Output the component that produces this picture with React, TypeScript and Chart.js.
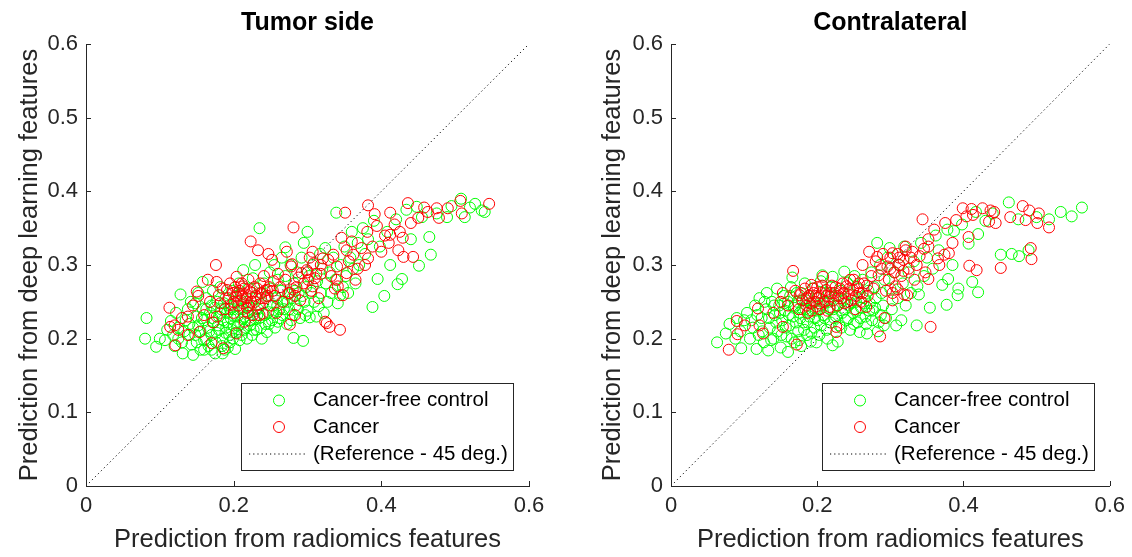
import React, { useEffect, useRef } from "react";
import { Chart, registerables } from "chart.js";

Chart.register(...registerables);

// ---------------- data ----------------
const PANEL_TITLES = ["Tumor side", "Contralateral"];
const SERIES_LABELS = ["Cancer-free control", "Cancer", "(Reference - 45 deg.)"];
const X_TITLE = "Prediction from radiomics features";
const Y_TITLE = "Prediction from deep learning features";
const X_TICKS = [0, 0.2, 0.4, 0.6];
const Y_TICKS = [0, 0.1, 0.2, 0.3, 0.4, 0.5, 0.6];
const REFERENCE_LINE: [number, number][] = [[0, 0], [0.6, 0.6]];

const TUMOR_CONTROL: [number, number][] = [
  [0.080,0.200],[0.082,0.228],[0.095,0.189],[0.100,0.200],[0.107,0.198],[0.110,0.212],[0.115,0.224],[0.118,0.205],
  [0.120,0.190],[0.122,0.235],[0.125,0.215],[0.128,0.260],[0.130,0.195],[0.131,0.180],[0.135,0.225],[0.138,0.240],
  [0.140,0.205],[0.142,0.250],[0.145,0.178],[0.145,0.215],[0.148,0.248],[0.150,0.230],[0.150,0.195],[0.152,0.262],
  [0.155,0.210],[0.155,0.185],[0.158,0.277],[0.158,0.240],[0.160,0.225],[0.162,0.200],[0.163,0.255],[0.165,0.215],
  [0.166,0.190],[0.168,0.235],[0.170,0.245],[0.170,0.205],[0.172,0.265],[0.173,0.222],[0.175,0.180],[0.176,0.195],
  [0.178,0.250],[0.180,0.230],[0.180,0.212],[0.182,0.270],[0.183,0.240],[0.185,0.200],[0.186,0.225],[0.188,0.185],
  [0.189,0.255],[0.190,0.215],[0.191,0.235],[0.193,0.245],[0.194,0.205],[0.195,0.195],[0.196,0.228],[0.198,0.265],
  [0.200,0.218],[0.200,0.240],[0.202,0.186],[0.203,0.208],[0.204,0.250],[0.205,0.230],[0.207,0.275],[0.208,0.198],
  [0.209,0.222],[0.210,0.260],[0.212,0.240],[0.213,0.293],[0.214,0.212],[0.215,0.230],[0.217,0.250],[0.218,0.200],
  [0.220,0.235],[0.221,0.268],[0.222,0.218],[0.224,0.245],[0.225,0.205],[0.226,0.282],[0.228,0.228],[0.229,0.300],
  [0.230,0.255],[0.231,0.212],[0.233,0.240],[0.235,0.350],[0.235,0.228],[0.236,0.262],[0.238,0.200],[0.240,0.248],
  [0.241,0.275],[0.243,0.220],[0.245,0.209],[0.245,0.258],[0.247,0.236],[0.249,0.290],[0.250,0.268],[0.252,0.225],
  [0.253,0.245],[0.255,0.300],[0.256,0.215],[0.258,0.255],[0.260,0.223],[0.260,0.280],[0.262,0.240],[0.264,0.265],
  [0.265,0.310],[0.266,0.232],[0.268,0.250],[0.270,0.324],[0.270,0.285],[0.272,0.220],[0.274,0.260],[0.275,0.240],
  [0.277,0.300],[0.279,0.255],[0.280,0.232],[0.281,0.201],[0.282,0.275],[0.284,0.245],[0.286,0.290],[0.288,0.262],
  [0.290,0.228],[0.292,0.310],[0.294,0.197],[0.295,0.330],[0.296,0.250],[0.298,0.270],[0.300,0.345],[0.300,0.238],
  [0.302,0.285],[0.303,0.229],[0.305,0.262],[0.307,0.300],[0.309,0.250],[0.312,0.230],[0.313,0.278],[0.315,0.244],
  [0.317,0.315],[0.318,0.262],[0.320,0.295],[0.322,0.235],[0.324,0.323],[0.325,0.275],[0.327,0.250],[0.330,0.290],
  [0.332,0.262],[0.335,0.310],[0.338,0.280],[0.339,0.371],[0.341,0.248],[0.344,0.259],[0.345,0.300],[0.348,0.270],
  [0.350,0.325],[0.352,0.285],[0.355,0.262],[0.358,0.310],[0.360,0.345],[0.362,0.295],[0.365,0.275],[0.368,0.330],
  [0.370,0.300],[0.375,0.350],[0.378,0.315],[0.382,0.335],[0.388,0.243],[0.390,0.360],[0.395,0.281],[0.398,0.325],
  [0.404,0.258],[0.408,0.345],[0.412,0.300],[0.420,0.362],[0.422,0.274],[0.428,0.281],[0.434,0.375],[0.440,0.335],
  [0.448,0.379],[0.451,0.299],[0.455,0.365],[0.465,0.338],[0.467,0.314],[0.475,0.370],[0.489,0.365],[0.495,0.380],
  [0.508,0.390],[0.513,0.365],[0.520,0.378],[0.527,0.383],[0.536,0.374],[0.540,0.372],
  [0.125,0.200],[0.133,0.210],[0.140,0.220],[0.143,0.192],[0.148,0.205],[0.152,0.218],[0.157,0.228],[0.160,0.198],
  [0.163,0.240],[0.167,0.210],[0.171,0.228],[0.174,0.242],[0.177,0.208],[0.179,0.218],[0.182,0.235],[0.184,0.190],
  [0.187,0.248],[0.189,0.208],[0.192,0.222],[0.195,0.240],[0.197,0.212],[0.199,0.200],[0.201,0.230],[0.203,0.258],
  [0.206,0.218],[0.208,0.240],[0.211,0.205],[0.213,0.228],[0.216,0.215],[0.219,0.245],[0.223,0.225],[0.227,0.212],
  [0.232,0.232],[0.237,0.215],[0.242,0.232],[0.248,0.220],[0.254,0.235],[0.259,0.245],[0.263,0.228],[0.268,0.240],
  [0.273,0.250],[0.278,0.225],[0.283,0.265],[0.287,0.240],[0.293,0.258],[0.297,0.232],[0.185,0.180],[0.192,0.188],
  [0.170,0.185],[0.160,0.185],
];

const TUMOR_CANCER: [number, number][] = [
  [0.113,0.242],[0.114,0.216],[0.120,0.218],[0.121,0.191],[0.125,0.212],[0.130,0.228],[0.138,0.230],[0.138,0.205],
  [0.145,0.245],[0.150,0.264],[0.152,0.258],[0.154,0.209],[0.160,0.232],[0.165,0.280],[0.168,0.250],[0.170,0.194],
  [0.172,0.222],[0.176,0.300],[0.177,0.277],[0.177,0.230],[0.180,0.259],[0.182,0.248],[0.185,0.268],[0.186,0.187],
  [0.188,0.240],[0.191,0.266],[0.193,0.255],[0.195,0.275],[0.197,0.246],[0.199,0.262],[0.200,0.235],[0.202,0.270],
  [0.204,0.284],[0.204,0.257],[0.204,0.207],[0.206,0.245],[0.208,0.265],[0.210,0.252],[0.211,0.275],[0.213,0.271],
  [0.213,0.248],[0.215,0.223],[0.216,0.260],[0.218,0.242],[0.219,0.235],[0.220,0.280],[0.222,0.264],[0.223,0.332],
  [0.224,0.250],[0.226,0.232],[0.228,0.270],[0.230,0.258],[0.233,0.320],[0.234,0.246],[0.235,0.232],[0.236,0.275],
  [0.238,0.262],[0.239,0.234],[0.241,0.285],[0.243,0.255],[0.245,0.266],[0.247,0.315],[0.248,0.270],[0.250,0.245],
  [0.252,0.307],[0.254,0.278],[0.256,0.258],[0.258,0.235],[0.260,0.288],[0.263,0.270],[0.266,0.250],[0.270,0.280],
  [0.272,0.318],[0.274,0.262],[0.276,0.219],[0.276,0.262],[0.278,0.298],[0.279,0.301],[0.280,0.267],[0.281,0.351],
  [0.283,0.258],[0.283,0.232],[0.285,0.270],[0.288,0.283],[0.290,0.252],[0.292,0.289],[0.295,0.275],[0.299,0.293],
  [0.301,0.280],[0.303,0.310],[0.305,0.265],[0.307,0.271],[0.307,0.318],[0.308,0.302],[0.312,0.288],[0.315,0.255],
  [0.318,0.300],[0.321,0.309],[0.324,0.223],[0.326,0.221],[0.328,0.307],[0.330,0.216],[0.332,0.285],[0.335,0.314],
  [0.337,0.268],[0.340,0.298],[0.340,0.280],[0.341,0.271],[0.344,0.212],[0.346,0.337],[0.348,0.259],[0.351,0.371],
  [0.353,0.289],[0.353,0.320],[0.356,0.305],[0.360,0.332],[0.362,0.314],[0.365,0.280],[0.368,0.295],[0.373,0.323],
  [0.378,0.300],[0.381,0.345],[0.382,0.309],[0.382,0.381],[0.388,0.325],[0.391,0.369],[0.394,0.353],[0.400,0.318],
  [0.405,0.340],[0.410,0.330],[0.412,0.341],[0.412,0.371],[0.418,0.355],[0.423,0.320],[0.425,0.345],[0.429,0.337],
  [0.430,0.311],[0.436,0.384],[0.440,0.357],[0.443,0.311],[0.450,0.364],[0.458,0.378],[0.463,0.372],[0.475,0.377],
  [0.478,0.364],[0.490,0.377],[0.507,0.387],[0.509,0.370],[0.546,0.383],
  [0.200,0.250],[0.206,0.262],[0.212,0.258],[0.214,0.268],[0.218,0.255],[0.221,0.245],[0.225,0.262],[0.229,0.250],
  [0.232,0.268],[0.237,0.255],[0.242,0.265],[0.246,0.258],[0.253,0.265],[0.300,0.290],[0.310,0.282],[0.318,0.288],
];

const CONTRA_CONTROL: [number, number][] = [
  [0.063,0.195],[0.075,0.207],[0.080,0.220],[0.088,0.200],[0.090,0.228],[0.095,0.210],[0.096,0.187],[0.100,0.225],
  [0.104,0.235],[0.108,0.200],[0.112,0.215],[0.115,0.245],[0.117,0.186],[0.120,0.205],[0.121,0.255],[0.124,0.228],
  [0.127,0.195],[0.130,0.240],[0.131,0.262],[0.133,0.184],[0.135,0.215],[0.138,0.250],[0.140,0.200],[0.142,0.232],
  [0.145,0.268],[0.146,0.210],[0.148,0.245],[0.150,0.188],[0.152,0.225],[0.154,0.258],[0.156,0.238],[0.158,0.203],
  [0.160,0.182],[0.160,0.250],[0.162,0.218],[0.164,0.270],[0.166,0.283],[0.167,0.230],[0.169,0.195],[0.170,0.245],
  [0.172,0.262],[0.174,0.210],[0.176,0.235],[0.178,0.190],[0.179,0.252],[0.181,0.222],[0.183,0.275],[0.184,0.240],
  [0.186,0.205],[0.188,0.258],[0.189,0.230],[0.191,0.196],[0.193,0.248],[0.194,0.268],[0.196,0.215],[0.198,0.238],
  [0.200,0.255],[0.201,0.225],[0.203,0.205],[0.205,0.278],[0.206,0.245],[0.207,0.286],[0.209,0.232],[0.211,0.262],
  [0.213,0.212],[0.215,0.250],[0.217,0.240],[0.219,0.270],[0.221,0.284],[0.221,0.191],[0.223,0.228],[0.225,0.258],
  [0.227,0.245],[0.228,0.196],[0.230,0.218],[0.232,0.265],[0.234,0.235],[0.236,0.252],[0.237,0.291],[0.239,0.225],
  [0.241,0.276],[0.243,0.245],[0.245,0.212],[0.247,0.260],[0.249,0.235],[0.251,0.285],[0.253,0.250],[0.255,0.222],
  [0.256,0.268],[0.258,0.209],[0.260,0.242],[0.262,0.280],[0.264,0.255],[0.266,0.230],[0.268,0.207],[0.270,0.265],
  [0.272,0.248],[0.274,0.290],[0.276,0.238],[0.278,0.270],[0.280,0.255],[0.282,0.330],[0.284,0.222],[0.286,0.300],
  [0.288,0.262],[0.290,0.245],[0.292,0.280],[0.294,0.228],[0.296,0.310],[0.299,0.323],[0.300,0.268],[0.302,0.240],
  [0.305,0.290],[0.308,0.218],[0.310,0.255],[0.312,0.300],[0.315,0.225],[0.317,0.275],[0.319,0.325],[0.321,0.245],
  [0.325,0.290],[0.328,0.262],[0.332,0.305],[0.336,0.218],[0.337,0.271],[0.339,0.260],[0.342,0.330],[0.346,0.285],
  [0.350,0.310],[0.354,0.242],[0.358,0.295],[0.362,0.340],[0.366,0.320],[0.371,0.273],[0.377,0.246],[0.378,0.348],
  [0.379,0.281],[0.385,0.300],[0.387,0.346],[0.392,0.259],[0.393,0.268],[0.398,0.355],[0.407,0.329],[0.412,0.277],
  [0.417,0.372],[0.420,0.342],[0.420,0.263],[0.430,0.360],[0.440,0.370],[0.451,0.314],[0.462,0.385],[0.466,0.315],
  [0.475,0.362],[0.476,0.312],[0.489,0.320],[0.500,0.365],[0.517,0.362],[0.533,0.372],[0.548,0.366],[0.562,0.378],
  [0.110,0.225],[0.118,0.232],[0.125,0.210],[0.128,0.250],[0.134,0.228],[0.137,0.198],[0.141,0.245],[0.144,0.222],
  [0.149,0.235],[0.151,0.205],[0.155,0.248],[0.157,0.215],[0.161,0.232],[0.163,0.258],[0.165,0.200],[0.168,0.242],
  [0.171,0.222],[0.173,0.250],[0.175,0.198],[0.177,0.228],[0.180,0.240],[0.182,0.212],[0.185,0.252],[0.187,0.222],
  [0.190,0.238],[0.192,0.208],[0.195,0.250],[0.197,0.228],[0.199,0.195],[0.202,0.240],[0.205,0.218],[0.208,0.250],
  [0.210,0.228],[0.214,0.200],[0.216,0.262],[0.218,0.222],[0.222,0.240],[0.226,0.230],[0.229,0.255],[0.233,0.215],
  [0.238,0.240],[0.242,0.228],[0.246,0.248],[0.250,0.220],[0.254,0.238],[0.259,0.228],[0.263,0.248],[0.267,0.220],
  [0.271,0.238],[0.275,0.225],[0.279,0.242],[0.283,0.210],[0.287,0.232],[0.291,0.218],
];

const CONTRA_CANCER: [number, number][] = [
  [0.079,0.185],[0.090,0.224],[0.091,0.206],[0.101,0.218],[0.119,0.241],[0.121,0.218],[0.126,0.207],[0.140,0.235],
  [0.150,0.250],[0.153,0.262],[0.153,0.216],[0.160,0.245],[0.167,0.292],[0.170,0.265],[0.172,0.192],[0.175,0.240],
  [0.176,0.259],[0.180,0.252],[0.183,0.268],[0.185,0.245],[0.187,0.235],[0.189,0.258],[0.190,0.248],[0.192,0.273],
  [0.193,0.238],[0.195,0.262],[0.197,0.250],[0.199,0.244],[0.200,0.270],[0.202,0.255],[0.204,0.240],[0.206,0.262],
  [0.208,0.284],[0.210,0.250],[0.212,0.266],[0.214,0.238],[0.217,0.257],[0.217,0.243],[0.220,0.272],[0.222,0.252],
  [0.224,0.262],[0.226,0.216],[0.226,0.209],[0.228,0.245],[0.231,0.268],[0.233,0.255],[0.235,0.275],[0.237,0.248],
  [0.240,0.271],[0.242,0.260],[0.245,0.280],[0.247,0.252],[0.249,0.266],[0.250,0.280],[0.252,0.240],[0.255,0.270],
  [0.258,0.262],[0.260,0.250],[0.262,0.300],[0.264,0.275],[0.267,0.243],[0.269,0.258],[0.271,0.318],[0.274,0.285],
  [0.277,0.268],[0.280,0.305],[0.282,0.311],[0.284,0.286],[0.286,0.203],[0.288,0.295],[0.290,0.315],[0.292,0.228],
  [0.294,0.265],[0.296,0.298],[0.298,0.280],[0.300,0.310],[0.303,0.316],[0.303,0.262],[0.303,0.252],[0.306,0.290],
  [0.307,0.271],[0.310,0.315],[0.310,0.267],[0.312,0.300],[0.315,0.285],[0.318,0.307],[0.319,0.260],[0.321,0.325],
  [0.321,0.320],[0.323,0.259],[0.325,0.295],[0.328,0.310],[0.330,0.318],[0.333,0.280],[0.336,0.300],[0.340,0.312],
  [0.344,0.362],[0.346,0.322],[0.348,0.290],[0.352,0.335],[0.352,0.325],[0.352,0.281],[0.355,0.216],[0.360,0.348],
  [0.365,0.309],[0.367,0.300],[0.374,0.314],[0.375,0.357],[0.380,0.316],[0.385,0.330],[0.390,0.361],[0.399,0.377],
  [0.404,0.366],[0.407,0.338],[0.408,0.299],[0.411,0.376],[0.413,0.368],[0.418,0.293],[0.426,0.377],[0.435,0.359],
  [0.437,0.374],[0.442,0.372],[0.444,0.357],[0.451,0.296],[0.464,0.365],[0.481,0.380],[0.485,0.361],[0.490,0.374],
  [0.492,0.323],[0.493,0.308],[0.501,0.357],[0.503,0.370],[0.517,0.351],
  [0.178,0.262],[0.186,0.255],[0.194,0.268],[0.198,0.258],[0.203,0.248],[0.207,0.272],[0.213,0.258],[0.219,0.262],
  [0.225,0.270],[0.229,0.258],[0.236,0.262],[0.241,0.250],[0.244,0.268],[0.253,0.258],[0.257,0.275],[0.262,0.262],
  [0.268,0.272],[0.300,0.295],[0.312,0.310],[0.318,0.292],
];

// ---------------- styling ----------------
const FONT = '"Liberation Sans", Arial, Helvetica, sans-serif';
const AXIS_COLOR = "#262626";
const CONTROL_COLOR = "#00ff00";
const CANCER_COLOR = "#ff0000";
const CANVAS_W = 566;
const CANVAS_H = 557;
const MARKER_R = 5.5;

const inwardTicks = {
  id: "inwardTicks",
  afterDraw(chart: any) {
    const { ctx, chartArea, scales } = chart;
    ctx.save();
    ctx.strokeStyle = AXIS_COLOR;
    ctx.lineWidth = 1;
    ctx.beginPath();
    Y_TICKS.forEach((v) => {
      const y = Math.round(scales.y.getPixelForValue(v)) + 0.5;
      ctx.moveTo(chartArea.left, y);
      ctx.lineTo(chartArea.left + 5, y);
    });
    X_TICKS.forEach((v) => {
      const x = Math.round(scales.x.getPixelForValue(v)) + 0.5;
      ctx.moveTo(x, chartArea.bottom);
      ctx.lineTo(x, chartArea.bottom - 5);
    });
    ctx.stroke();
    ctx.restore();
  },
};

const boxLegend = {
  id: "boxLegend",
  afterDraw(chart: any) {
    const { ctx, chartArea } = chart;
    const W = 272;
    const H = 87;
    const inset = 16;
    const L = Math.round(chartArea.right - inset - W);
    const T = Math.round(chartArea.bottom - inset - H);
    ctx.save();
    ctx.fillStyle = "#ffffff";
    ctx.fillRect(L, T, W, H);
    ctx.strokeStyle = AXIS_COLOR;
    ctx.lineWidth = 1;
    ctx.strokeRect(L + 0.5, T + 0.5, W, H);
    const rows = [17.5, 44, 71];
    chart.data.datasets.forEach((ds: any, i: number) => {
      const cy = T + rows[i];
      ctx.strokeStyle = ds.borderColor;
      ctx.lineWidth = 1;
      if (ds.showLine) {
        ctx.setLineDash(ds.borderDash || []);
        ctx.beginPath();
        ctx.moveTo(L + 8, cy);
        ctx.lineTo(L + 64, cy);
        ctx.stroke();
        ctx.setLineDash([]);
      } else {
        ctx.beginPath();
        ctx.arc(L + 38, cy, ds.pointRadius, 0, Math.PI * 2);
        ctx.stroke();
      }
      ctx.fillStyle = "#000000";
      ctx.font = `20.5px ${FONT}`;
      ctx.textBaseline = "middle";
      ctx.textAlign = "left";
      ctx.fillText(ds.label, L + 72, cy);
    });
    ctx.restore();
  },
};

function makeChart(
  canvas: HTMLCanvasElement,
  title: string,
  control: [number, number][],
  cancer: [number, number][],
  yAxisWidth: number,
  rightPad: number,
  yTitlePad: number
) {
  const toXY = (arr: [number, number][]) => arr.map(([x, y]) => ({ x, y }));
  return new Chart(canvas, {
    type: "scatter",
    data: {
      datasets: [
        {
          label: SERIES_LABELS[0],
          data: toXY(control),
          borderColor: CONTROL_COLOR,
          backgroundColor: "rgba(0,0,0,0)",
          pointRadius: MARKER_R,
          pointBorderWidth: 1,
          pointStyle: "circle",
          showLine: false,
          order: 3,
        },
        {
          label: SERIES_LABELS[1],
          data: toXY(cancer),
          borderColor: CANCER_COLOR,
          backgroundColor: "rgba(0,0,0,0)",
          pointRadius: MARKER_R,
          pointBorderWidth: 1,
          pointStyle: "circle",
          showLine: false,
          order: 2,
        },
        {
          label: SERIES_LABELS[2],
          data: toXY(REFERENCE_LINE),
          borderColor: "#000000",
          borderWidth: 1,
          borderDash: [1.2, 3],
          pointRadius: 0,
          showLine: true,
          fill: false,
          order: 1,
        } as any,
      ],
    },
    options: {
      responsive: false,
      animation: false,
      devicePixelRatio: 1,
      events: [],
      layout: { padding: { left: 0, right: rightPad, top: 0, bottom: 0 } },
      plugins: {
        legend: { display: false },
        tooltip: { enabled: false },
        title: {
          display: true,
          text: title,
          fullSize: false,
          color: "#000000",
          font: { family: FONT, size: 25, weight: "bold", lineHeight: 1.2 },
          padding: { top: 8, bottom: 6 },
        },
      },
      scales: {
        x: {
          type: "linear",
          min: 0,
          max: 0.6,
          afterBuildTicks: (scale: any) => {
            scale.ticks = X_TICKS.map((v) => ({ value: v }));
          },
          afterFit: (scale: any) => {
            scale.height = 71;
          },
          grid: { display: false, drawTicks: false },
          border: { display: true, color: AXIS_COLOR, width: 1 },
          ticks: {
            color: AXIS_COLOR,
            padding: 7,
            font: { family: FONT, size: 22 },
            callback: (v: any) => String(v),
            maxRotation: 0,
            autoSkip: false,
          },
          title: {
            display: true,
            text: X_TITLE,
            color: AXIS_COLOR,
            font: { family: FONT, size: 25.5, lineHeight: 1.2 },
            padding: { top: 0, bottom: 2 },
          },
        },
        y: {
          type: "linear",
          min: 0,
          max: 0.6,
          afterBuildTicks: (scale: any) => {
            scale.ticks = Y_TICKS.map((v) => ({ value: v }));
          },
          afterFit: (scale: any) => {
            scale.width = yAxisWidth;
          },
          grid: { display: false, drawTicks: false },
          border: { display: true, color: AXIS_COLOR, width: 1 },
          ticks: {
            color: AXIS_COLOR,
            padding: 8,
            font: { family: FONT, size: 22 },
            callback: (v: any) => String(v),
            autoSkip: false,
          },
          title: {
            display: true,
            text: Y_TITLE,
            color: AXIS_COLOR,
            font: { family: FONT, size: 25.5, lineHeight: 1.2 },
            padding: { top: yTitlePad, bottom: 0 },
          },
        },
      },
    } as any,
    plugins: [inwardTicks, boxLegend],
  });
}

export default function App() {
  const leftRef = useRef<HTMLCanvasElement>(null);
  const rightRef = useRef<HTMLCanvasElement>(null);

  useEffect(() => {
    if (!leftRef.current || !rightRef.current) return;
    const c1 = makeChart(leftRef.current, PANEL_TITLES[0], TUMOR_CONTROL, TUMOR_CANCER, 86, 37, 15);
    const c2 = makeChart(rightRef.current, PANEL_TITLES[1], CONTRA_CONTROL, CONTRA_CANCER, 105, 21, 32);
    return () => {
      c1.destroy();
      c2.destroy();
    };
  }, []);

  return (
    <div
      style={{
        position: "absolute",
        left: 0,
        top: 0,
        width: 1132,
        height: 557,
        background: "#ffffff",
      }}
    >
      <canvas
        ref={leftRef}
        width={CANVAS_W}
        height={CANVAS_H}
        style={{ position: "absolute", left: 0, top: 0, width: CANVAS_W, height: CANVAS_H }}
      />
      <canvas
        ref={rightRef}
        width={CANVAS_W}
        height={CANVAS_H}
        style={{ position: "absolute", left: CANVAS_W, top: 0, width: CANVAS_W, height: CANVAS_H }}
      />
    </div>
  );
}
